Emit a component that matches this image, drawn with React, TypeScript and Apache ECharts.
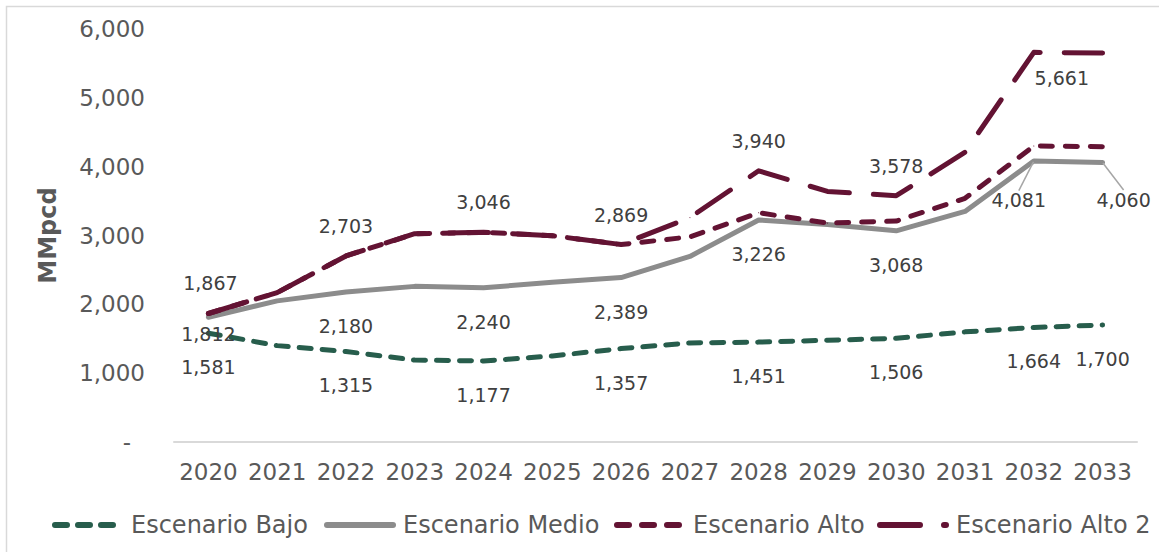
import React, { useEffect, useRef } from 'react';
import * as echarts from 'echarts';

const years = ['2020', '2021', '2022', '2023', '2024', '2025', '2026', '2027', '2028', '2029', '2030', '2031', '2032', '2033'];
const bajo = [1581, 1400, 1315, 1190, 1177, 1250, 1357, 1440, 1451, 1478, 1506, 1600, 1664, 1700];
const medio = [1812, 2050, 2180, 2261, 2240, 2320, 2389, 2696, 3226, 3160, 3068, 3350, 4081, 4060];
const alto = [1867, 2170, 2703, 3026, 3046, 2997, 2869, 2980, 3330, 3180, 3210, 3540, 4300, 4290];
const alto2 = [1867, 2170, 2703, 3026, 3046, 2997, 2869, 3260, 3940, 3640, 3578, 4210, 5661, 5650];
const seriesNames = ['Escenario Bajo', 'Escenario Medio', 'Escenario Alto', 'Escenario Alto 2'];
const labeledBajo = [0, 2, 4, 6, 8, 10, 12, 13];
const labeledMedio = [0, 2, 4, 6, 8, 10, 12, 13];
const labeledAlto2 = [0, 2, 4, 6, 8, 10, 12];
const yMin = 0;
const yMax = 6000;
const yStep = 1000;

const FONT = 'DejaVu Sans';
const GREEN = '#275d4c';
const GRAY = '#8c8c8c';
const MAROON = '#631333';
const LABEL_COLOR = '#404040';
const AXIS_COLOR = '#595959';

const legendLefts = [52, 324, 614, 877];

type Override = { position?: string; distance?: number; offset?: number[]; line?: boolean };

function build(values: number[], labeled: number[], position: string, distance: number, overrides: Record<number, Override>) {
  return values.map((v, i) => {
    if (!labeled.includes(i)) return v;
    const o = overrides[i] || {};
    const item: any = {
      value: v,
      label: {
        show: true,
        position: o.position ?? position,
        distance: o.distance ?? distance,
        offset: o.offset ?? [0, 0],
      },
    };
    if (o.line) item.labelLine = { show: true };
    return item;
  });
}

const fmt = (v: number) => v.toLocaleString('en-US');

export default function App() {
  const ref = useRef<HTMLDivElement>(null);
  useEffect(() => {
    if (!ref.current) return;
    const chart = echarts.init(ref.current, undefined, { renderer: 'svg' });
    const labelBase = {
      show: false,
      fontFamily: FONT,
      fontSize: 19,
      color: LABEL_COLOR,
      formatter: (p: any) => fmt(p.value),
    };
    const legends = seriesNames.map((name, i) => ({
      left: legendLefts[i],
      top: 513,
      padding: 0,
      itemWidth: 66,
      itemHeight: 14,
      data: [name],
      itemStyle: { opacity: 0 },
      lineStyle: { width: 6 },
      textStyle: { fontFamily: FONT, fontSize: 24, color: AXIS_COLOR, padding: [0, 0, 0, 5] },
    }));
    const option: any = {
      animation: false,
      backgroundColor: '#ffffff',
      graphic: [
        {
          type: 'rect',
          shape: { x: 6.5, y: 6.5, width: 1200, height: 600 },
          style: { fill: 'none', stroke: '#d9d9d9', lineWidth: 1.5 },
          silent: true,
        },
      ],
      grid: { left: 174, right: 22, top: 29, bottom: 110 },
      legend: legends,
      xAxis: {
        type: 'category',
        data: years,
        boundaryGap: true,
        axisTick: { show: false },
        axisLine: { lineStyle: { color: '#d9d9d9', width: 2 } },
        axisLabel: { fontFamily: FONT, fontSize: 23, color: AXIS_COLOR, margin: 18, interval: 0 },
      },
      yAxis: {
        type: 'value',
        min: yMin,
        max: yMax,
        interval: yStep,
        name: 'MMpcd',
        nameLocation: 'middle',
        nameRotate: 90,
        nameGap: 114,
        nameTextStyle: { fontFamily: FONT, fontSize: 24, fontWeight: 'bold', color: AXIS_COLOR },
        splitLine: { show: false },
        axisLine: { show: false },
        axisTick: { show: false },
        axisLabel: {
          fontFamily: FONT,
          fontSize: 23,
          color: AXIS_COLOR,
          margin: 29,
          formatter: (v: number) => (v === 0 ? '{d|-}' : fmt(v)),
          rich: { d: { fontFamily: FONT, fontSize: 23, color: AXIS_COLOR, padding: [0, 14, 0, 0] } },
        },
      },
      series: [
        {
          name: seriesNames[0],
          type: 'line',
          data: build(bajo, labeledBajo, 'bottom', 24, {}),
          symbol: 'circle',
          symbolSize: 1,
          showAllSymbol: true,
          itemStyle: { color: GREEN },
          lineStyle: { color: GREEN, width: 5, type: [12, 11], cap: 'round', join: 'round' },
          label: labelBase,
          z: 2,
        },
        {
          name: seriesNames[1],
          type: 'line',
          data: build(medio, labeledMedio, 'bottom', 24, {
            0: { distance: 7, offset: [5, 0] },
            12: { line: true },
            13: { line: true },
          }),
          symbol: 'circle',
          symbolSize: 1,
          showAllSymbol: true,
          itemStyle: { color: GRAY },
          lineStyle: { color: GRAY, width: 5, cap: 'round', join: 'round' },
          label: labelBase,
          labelLine: { show: false, lineStyle: { color: '#a6a6a6', width: 1.5 } },
          labelLayout: (p: any) => {
            if (p.dataIndex === 12) return { dx: -15, dy: 5 };
            if (p.dataIndex === 13) return { dx: 21, dy: 3 };
            return {};
          },
          z: 3,
        },
        {
          name: seriesNames[2],
          type: 'line',
          data: alto,
          symbol: 'circle',
          symbolSize: 1,
          showAllSymbol: true,
          itemStyle: { color: MAROON },
          lineStyle: { color: MAROON, width: 5, type: [12, 13], cap: 'round', join: 'round' },
          label: { show: false },
          z: 4,
        },
        {
          name: seriesNames[3],
          type: 'line',
          data: build(alto2, labeledAlto2, 'top', 20, {
            0: { offset: [2, 0] },
            12: { position: 'bottom', distance: 16, offset: [28, 0] },
          }),
          symbol: 'circle',
          symbolSize: 1,
          showAllSymbol: true,
          itemStyle: { color: MAROON },
          lineStyle: { color: MAROON, width: 5, type: [40, 24], cap: 'round', join: 'round' },
          label: labelBase,
          z: 5,
        },
      ],
    };
    chart.setOption(option);
    return () => chart.dispose();
  }, []);
  return (
    <div
      ref={ref}
      style={{ position: 'fixed', left: 0, top: 0, width: 1159, height: 552, background: '#fff' }}
    />
  );
}
